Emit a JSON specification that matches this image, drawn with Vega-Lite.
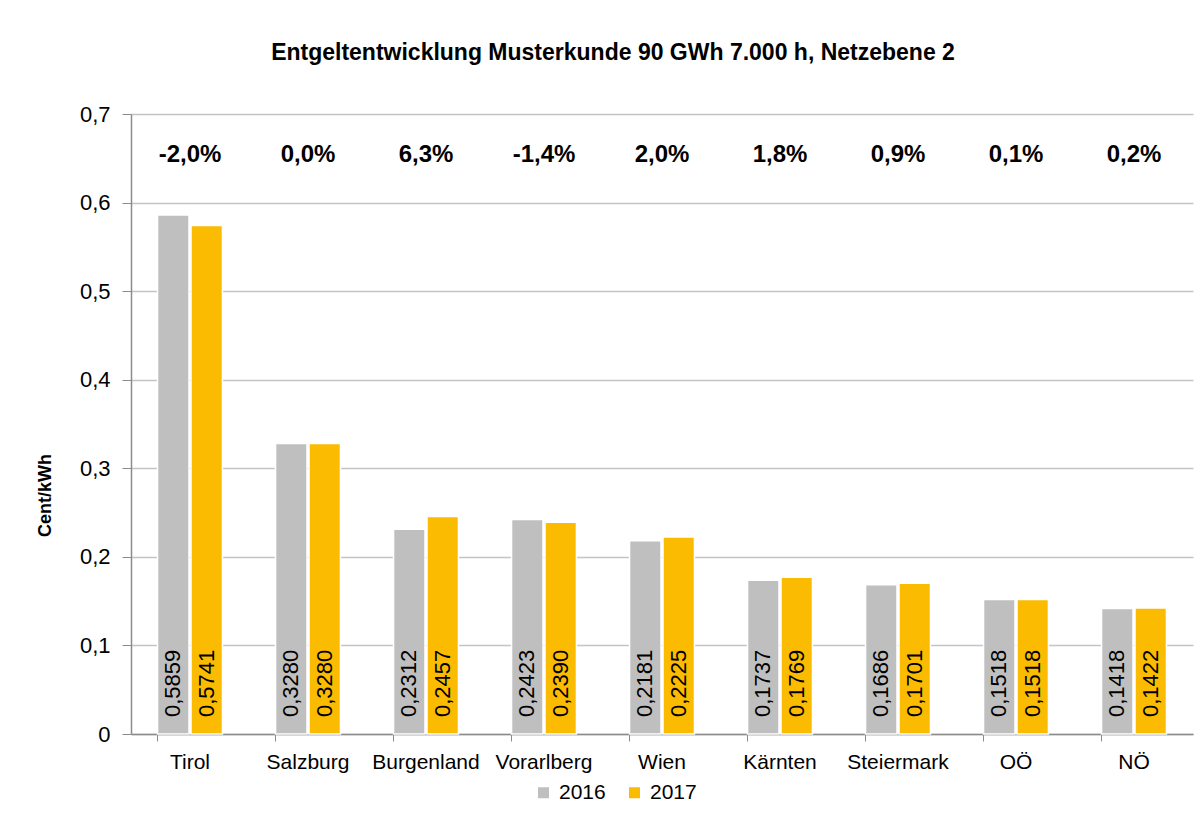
{
  "$schema": "https://vega.github.io/schema/vega-lite/v6.json",
  "width": 1062,
  "height": 620,
  "autosize": {"type": "none"},
  "padding": {"left": 131, "top": 114, "right": 9, "bottom": 89},
  "background": "white",
  "config": {
    "locale": {"number": {"decimal": ",", "thousands": ".", "grouping": [3], "currency": ["", " €"]}},
    "view": {"stroke": null},
    "font": "Liberation Sans"
  },
  "title": {
    "text": "Entgeltentwicklung Musterkunde 90 GWh 7.000 h, Netzebene 2",
    "fontSize": 23,
    "fontWeight": "bold",
    "font": "Liberation Sans",
    "color": "black",
    "anchor": "middle",
    "dx": -49,
    "offset": 38
  },
  "datasets": {
    "bars": [
      {"region": "Tirol", "year": "2016", "value": 0.5859},
      {"region": "Tirol", "year": "2017", "value": 0.5741},
      {"region": "Salzburg", "year": "2016", "value": 0.3280},
      {"region": "Salzburg", "year": "2017", "value": 0.3280},
      {"region": "Burgenland", "year": "2016", "value": 0.2312},
      {"region": "Burgenland", "year": "2017", "value": 0.2457},
      {"region": "Vorarlberg", "year": "2016", "value": 0.2423},
      {"region": "Vorarlberg", "year": "2017", "value": 0.2390},
      {"region": "Wien", "year": "2016", "value": 0.2181},
      {"region": "Wien", "year": "2017", "value": 0.2225},
      {"region": "Kärnten", "year": "2016", "value": 0.1737},
      {"region": "Kärnten", "year": "2017", "value": 0.1769},
      {"region": "Steiermark", "year": "2016", "value": 0.1686},
      {"region": "Steiermark", "year": "2017", "value": 0.1701},
      {"region": "OÖ", "year": "2016", "value": 0.1518},
      {"region": "OÖ", "year": "2017", "value": 0.1518},
      {"region": "NÖ", "year": "2016", "value": 0.1418},
      {"region": "NÖ", "year": "2017", "value": 0.1422}
    ],
    "changes": [
      {"region": "Tirol", "change": "-2,0%"},
      {"region": "Salzburg", "change": "0,0%"},
      {"region": "Burgenland", "change": "6,3%"},
      {"region": "Vorarlberg", "change": "-1,4%"},
      {"region": "Wien", "change": "2,0%"},
      {"region": "Kärnten", "change": "1,8%"},
      {"region": "Steiermark", "change": "0,9%"},
      {"region": "OÖ", "change": "0,1%"},
      {"region": "NÖ", "change": "0,2%"}
    ]
  },
  "layer": [
    {
      "data": {"name": "bars"},
      "mark": {"type": "bar", "stroke": "white", "strokeWidth": 1.5},
      "encoding": {
        "x": {
          "field": "region",
          "type": "nominal",
          "sort": ["Tirol", "Salzburg", "Burgenland", "Vorarlberg", "Wien", "Kärnten", "Steiermark", "OÖ", "NÖ"],
          "scale": {
            "domain": ["Tirol", "Salzburg", "Burgenland", "Vorarlberg", "Wien", "Kärnten", "Steiermark", "OÖ", "NÖ"],
            "paddingInner": 0.45,
            "paddingOuter": 0.225
          },
          "axis": {
            "title": null,
            "labelAngle": 0,
            "labelFontSize": 21,
            "labelColor": "black",
            "labelPadding": 10,
            "bandPosition": 0,
            "tickSize": 7,
            "tickColor": "#8c8c8c",
            "domainColor": "#8c8c8c",
            "domainWidth": 1.5,
            "grid": false
          }
        },
        "xOffset": {"field": "year", "type": "nominal", "scale": {"paddingInner": 0.06}},
        "y": {
          "field": "value",
          "type": "quantitative",
          "scale": {"domain": [0, 0.7], "nice": false},
          "axis": {
            "title": "Cent/kWh",
            "titleFontSize": 18,
            "titleFontWeight": "bold",
            "titleColor": "black",
            "titleX": -86,
            "titleY": 381,
            "titleAngle": -90,
            "titleAlign": "center",
            "titleBaseline": "middle",
            "values": [0, 0.1, 0.2, 0.3, 0.4, 0.5, 0.6, 0.7],
            "format": ".1~f",
            "labelFontSize": 22,
            "labelColor": "black",
            "labelPadding": 12,
            "tickSize": 9,
            "tickColor": "#8c8c8c",
            "domainColor": "#8c8c8c",
            "domainWidth": 1.5,
            "gridColor": "#c4c4c4",
            "gridWidth": 1.5
          }
        },
        "color": {
          "field": "year",
          "type": "nominal",
          "scale": {"domain": ["2016", "2017"], "range": ["#bfbfbf", "#fabb00"]},
          "legend": {
            "title": null,
            "orient": "none",
            "direction": "horizontal",
            "legendX": 402,
            "legendY": 668,
            "symbolType": "square",
            "symbolSize": 121,
            "symbolStrokeWidth": 0,
            "labelFontSize": 21,
            "labelColor": "black",
            "labelOffset": 5,
            "columnPadding": 18
          }
        }
      }
    },
    {
      "data": {"name": "bars"},
      "mark": {"type": "text", "angle": 270, "align": "left", "baseline": "middle", "dx": 17, "fontSize": 22, "color": "black"},
      "encoding": {
        "x": {"field": "region", "type": "nominal", "sort": ["Tirol", "Salzburg", "Burgenland", "Vorarlberg", "Wien", "Kärnten", "Steiermark", "OÖ", "NÖ"]},
        "xOffset": {"field": "year", "type": "nominal"},
        "y": {"datum": 0},
        "text": {"field": "value", "type": "quantitative", "format": ".4f"}
      }
    },
    {
      "data": {"name": "changes"},
      "mark": {"type": "text", "align": "center", "baseline": "middle", "fontSize": 24, "fontWeight": "bold", "color": "black"},
      "encoding": {
        "x": {"field": "region", "type": "nominal", "sort": ["Tirol", "Salzburg", "Burgenland", "Vorarlberg", "Wien", "Kärnten", "Steiermark", "OÖ", "NÖ"]},
        "y": {"datum": 0.654},
        "text": {"field": "change", "type": "nominal"}
      }
    }
  ]
}
